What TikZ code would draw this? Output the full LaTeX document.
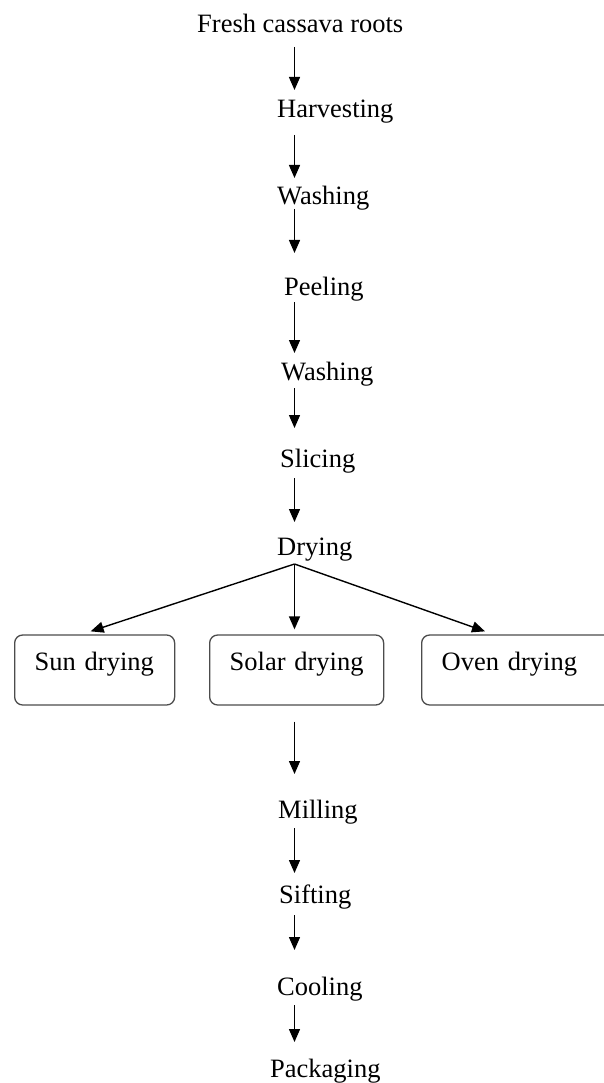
\documentclass[tikz,border=0pt]{standalone}
\usepackage{fontspec}
\setmainfont{Liberation Serif}
\usetikzlibrary{arrows.meta}
\begin{document}
\begin{tikzpicture}[x=1pt,y=-1pt,
  lbl/.style={inner sep=0pt, anchor=base west, font=\fontsize{26.5}{30}\selectfont},
  arr/.style={line width=1.4pt, -{Triangle[width=11pt,length=13pt]}},
  dbox/.style={draw=black!70, line width=1.3pt, rounded corners=8pt, inner xsep=20pt, inner ysep=0pt,
    text height=35pt, text depth=35pt, anchor=base west, align=left, font=\fontsize{26.5}{30}\selectfont}]
\useasboundingbox (0,0) rectangle (603,1083);
\coordinate (spine) at (294.5,0);
\node[lbl] (fresh) at (197,33) {Fresh cassava roots};
\node[lbl] (harv) at (277,118) {Harvesting};
\node[lbl] (wash1) at (277,205) {Washing};
\node[lbl] (peel) at (284,295) {Peeling};
\node[lbl] (wash2) at (281,380) {Washing};
\node[lbl] (slice) at (280,467) {Slicing};
\node[lbl] (dry) at (277,555) {Drying};
\node[dbox, text width=120pt] (sun) at (14,670) {Sun drying};
\node[dbox, text width=134pt] (solar) at (209,670) {Solar drying};
\node[dbox, text width=150pt] (oven) at (421,670) {Oven drying};
\node[lbl] (mill) at (278,818) {Milling};
\node[lbl] (sift) at (279,903) {Sifting};
\node[lbl] (cool) at (277,995) {Cooling};
\node[lbl] (pack) at (270,1077) {Packaging};
\coordinate (fork) at ([yshift=-9pt]dry.base -| spine);
\draw[arr] ([yshift=-14pt]fresh.base -| spine) -- ([yshift=28pt]harv.base -| spine);
\draw[arr] ([yshift=-17pt]harv.base -| spine) -- ([yshift=27pt]wash1.base -| spine);
\draw[arr] ([yshift=-4pt]wash1.base -| spine) -- ([yshift=42pt]peel.base -| spine);
\draw[arr] ([yshift=-7pt]peel.base -| spine) -- ([yshift=27pt]wash2.base -| spine);
\draw[arr] ([yshift=-8pt]wash2.base -| spine) -- ([yshift=39pt]slice.base -| spine);
\draw[arr] ([yshift=-11pt]slice.base -| spine) -- ([yshift=33pt]dry.base -| spine);
\draw[arr] (fork) -- ([xshift=-4pt,yshift=3pt]sun.north);
\draw[arr] (fork) -- ([yshift=5pt]solar.north -| spine);
\draw[arr] (fork) -- ([xshift=64pt,yshift=3pt]oven.north west);
\draw[arr] ([yshift=-16pt]solar.south -| spine) -- ([yshift=44pt]mill.base -| spine);
\draw[arr] ([yshift=-10pt]mill.base -| spine) -- ([yshift=30pt]sift.base -| spine);
\draw[arr] ([yshift=-12pt]sift.base -| spine) -- ([yshift=45pt]cool.base -| spine);
\draw[arr] ([yshift=-10pt]cool.base -| spine) -- ([yshift=35pt]pack.base -| spine);
\end{tikzpicture}
\end{document}
